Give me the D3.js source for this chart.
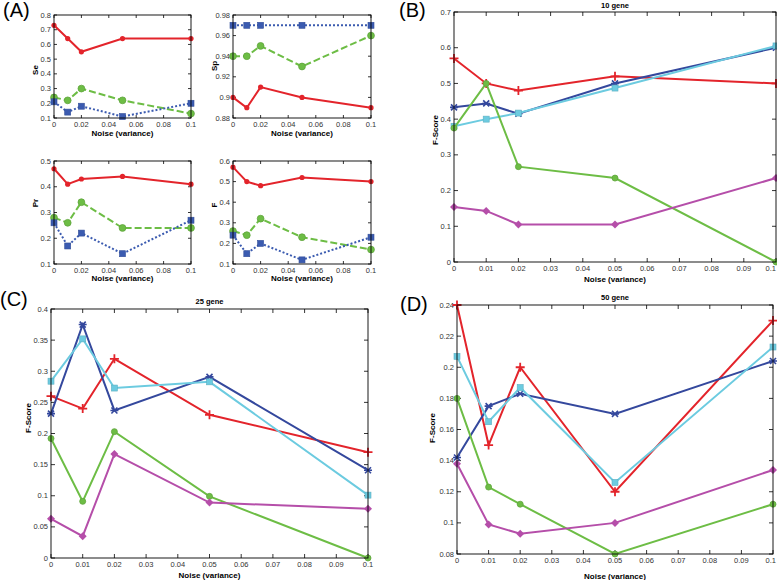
<!DOCTYPE html>
<html>
<head>
<meta charset="utf-8">
<script src="https://cdn.jsdelivr.net/npm/d3@7"></script>
<style>
  body { margin: 0; background: #fff; }
  text { font-family: "Liberation Sans", Arial, sans-serif; }
</style>
</head>
<body>
<svg id="fig"></svg>
<script>
// noise levels shared by every panel
const noise = [0, 0.01, 0.02, 0.05, 0.1];

// panel A: three methods, four measures
const seRed = [0.73, 0.64, 0.55, 0.64, 0.64];
const seGreen = [0.24, 0.22, 0.30, 0.22, 0.13];
const seBlue = [0.21, 0.14, 0.18, 0.11, 0.20];
const spRed = [0.90, 0.89, 0.91, 0.90, 0.89];
const spGreen = [0.94, 0.94, 0.95, 0.93, 0.96];
const spBlue = [0.97, 0.97, 0.97, 0.97, 0.97];
const prRed = [0.47, 0.41, 0.43, 0.44, 0.41];
const prGreen = [0.28, 0.26, 0.34, 0.24, 0.24];
const prBlue = [0.26, 0.17, 0.22, 0.14, 0.27];
const fRed = [0.57, 0.50, 0.48, 0.52, 0.50];
const fGreen = [0.26, 0.24, 0.32, 0.23, 0.17];
const fBlue = [0.24, 0.15, 0.20, 0.12, 0.23];

// panels B-D: F-score for five methods
const g10Red = [0.57, 0.50, 0.48, 0.52, 0.50];
const g10Blue = [0.433, 0.444, 0.415, 0.50, 0.60];
const g10Cyan = [0.38, 0.40, 0.417, 0.487, 0.605];
const g10Green = [0.375, 0.50, 0.267, 0.235, 0.0];
const g10Magenta = [0.154, 0.143, 0.105, 0.105, 0.235];

const g25Red = [0.26, 0.24, 0.32, 0.23, 0.17];
const g25Blue = [0.232, 0.375, 0.237, 0.291, 0.141];
const g25Cyan = [0.284, 0.352, 0.273, 0.283, 0.101];
const g25Green = [0.192, 0.091, 0.203, 0.099, 0.0];
const g25Magenta = [0.063, 0.035, 0.167, 0.089, 0.079];

const g50Red = [0.24, 0.15, 0.20, 0.12, 0.23];
const g50Blue = [0.142, 0.175, 0.183, 0.17, 0.204];
const g50Cyan = [0.207, 0.165, 0.187, 0.126, 0.213];
const g50Green = [0.18, 0.123, 0.112, 0.08, 0.112];
const g50Magenta = [0.138, 0.099, 0.093, 0.100, 0.134];

// tick values
const xTicksA = [0, 0.02, 0.04, 0.06, 0.08, 0.1];
const xTicksB = [0, 0.01, 0.02, 0.03, 0.04, 0.05, 0.06, 0.07, 0.08, 0.09, 0.1];
const seTicks = [0.1, 0.2, 0.3, 0.4, 0.5, 0.6, 0.7, 0.8];
const spTicks = [0.88, 0.9, 0.92, 0.94, 0.96, 0.98];
const prTicks = [0.1, 0.2, 0.3, 0.4, 0.5];
const fTicks = [0.1, 0.2, 0.3, 0.4, 0.5, 0.6];
const g10Ticks = [0, 0.1, 0.2, 0.3, 0.4, 0.5, 0.6, 0.7];
const g25Ticks = [0, 0.05, 0.1, 0.15, 0.2, 0.25, 0.3, 0.35, 0.4];
const g50Ticks = [0.08, 0.1, 0.12, 0.14, 0.16, 0.18, 0.2, 0.22, 0.24];

const RED = "#e3242b", BLUE = "#34489d", CYAN = "#6ccbe0", GREEN = "#6dbd45", MAGENTA = "#b54ea9";
const BLUE_A = "#3b5bb0";

const width = 777, height = 580;
const svg = d3.select("#fig").attr("width", width).attr("height", height);

const fmt = d => String(+d.toFixed(3));

function marker(g, shape, cx, cy, color, s) {
  if (shape === "dot") {
    g.append("circle").attr("cx", cx).attr("cy", cy).attr("r", s).attr("fill", color);
  } else if (shape === "circle") {
    g.append("circle").attr("cx", cx).attr("cy", cy).attr("r", s)
      .attr("fill", color).attr("stroke", d3.color(color).darker(0.4)).attr("stroke-width", 0.8);
  } else if (shape === "square") {
    g.append("rect").attr("x", cx - s).attr("y", cy - s).attr("width", 2 * s).attr("height", 2 * s)
      .attr("fill", color).attr("stroke", d3.color(color).darker(0.4)).attr("stroke-width", 0.6);
  } else if (shape === "diamond") {
    g.append("path").attr("d", `M${cx},${cy - s}L${cx + s},${cy}L${cx},${cy + s}L${cx - s},${cy}Z`)
      .attr("fill", color);
  } else if (shape === "plus") {
    g.append("path").attr("d", `M${cx - s},${cy}H${cx + s}M${cx},${cy - s}V${cy + s}`)
      .attr("stroke", color).attr("stroke-width", 1.8);
  } else if (shape === "star") {
    const d = s * 0.75;
    g.append("path")
      .attr("d", `M${cx - d},${cy - d}L${cx + d},${cy + d}M${cx - d},${cy + d}L${cx + d},${cy - d}M${cx - s},${cy}H${cx + s}`)
      .attr("stroke", color).attr("stroke-width", 1.6);
  }
}

function panel(p) {
  const x = d3.scaleLinear().domain([0, 0.1]).range([p.x0, p.x1]);
  const y = d3.scaleLinear().domain(p.yDomain).range([p.y1, p.y0]);
  const g = svg.append("g");
  const tl = p.tick;

  p.xTicks.forEach(t => {
    g.append("path").attr("d", `M${x(t)},${p.y1}v${-tl}M${x(t)},${p.y0}v${tl}`)
      .attr("stroke", "#000").attr("stroke-width", 0.8);
    // keep the last label inside the page when the axis ends at the edge
    const nearEdge = x(t) + 6 > width;
    g.append("text").attr("x", nearEdge ? width - 1 : x(t)).attr("y", p.y1 + 9)
      .attr("text-anchor", nearEdge ? "end" : "middle")
      .attr("font-size", p.fs).attr("fill", "#333").text(fmt(t));
  });
  p.yTicks.forEach(t => {
    g.append("path").attr("d", `M${p.x0},${y(t)}h${tl}M${p.x1},${y(t)}h${-tl}`)
      .attr("stroke", "#000").attr("stroke-width", 0.8);
    g.append("text").attr("x", p.x0 - 3).attr("y", y(t) + 2.5).attr("text-anchor", "end")
      .attr("font-size", p.fs).attr("fill", "#333").text(fmt(t));
  });

  p.series.forEach(s => {
    const line = d3.line().x((d, i) => x(noise[i])).y(d => y(d));
    g.append("path").attr("d", line(s.values)).attr("fill", "none")
      .attr("stroke", s.color).attr("stroke-width", 2)
      .attr("stroke-dasharray", s.dash || null);
    s.values.forEach((v, i) => marker(g, s.shape, x(noise[i]), y(v), s.color, s.size));
  });

  g.append("rect").attr("x", p.x0).attr("y", p.y0).attr("width", p.x1 - p.x0).attr("height", p.y1 - p.y0)
    .attr("fill", "none").attr("stroke", "#000").attr("stroke-width", 0.9);

  g.append("text").attr("x", (p.x0 + p.x1) / 2).attr("y", p.xlabY).attr("text-anchor", "middle")
    .attr("font-size", p.fs + 0.5).attr("font-weight", "bold").text("Noise (variance)");
  g.append("text").attr("transform", `translate(${p.ylabX},${p.ylabCy}) rotate(-90)`)
    .attr("text-anchor", "middle").attr("font-size", p.fs + 0.5).attr("font-weight", "bold").text(p.ylabel);
  if (p.title) {
    g.append("text").attr("x", (p.x0 + p.x1) / 2).attr("y", p.titleY).attr("text-anchor", "middle")
      .attr("font-size", p.fs).attr("font-weight", "bold").text(p.title);
  }
}

function seriesA(red, green, blue) {
  return [
    { values: red, color: RED, shape: "dot", size: 2.6 },
    { values: green, color: GREEN, shape: "circle", size: 3.4, dash: "7,3" },
    { values: blue, color: BLUE_A, shape: "square", size: 3, dash: "2,2" }
  ];
}

function seriesB(red, blue, cyan, green, magenta) {
  return [
    { values: red, color: RED, shape: "plus", size: 4.5 },
    { values: blue, color: BLUE, shape: "star", size: 4 },
    { values: cyan, color: CYAN, shape: "square", size: 3 },
    { values: green, color: GREEN, shape: "circle", size: 3 },
    { values: magenta, color: MAGENTA, shape: "diamond", size: 4 }
  ];
}

const small = { tick: 3, fs: 7.5, xTicks: xTicksA };
panel({ ...small, x0: 54, x1: 191, y0: 15, y1: 118, yDomain: [0.1, 0.8], yTicks: seTicks,
  series: seriesA(seRed, seGreen, seBlue), xlabY: 136, ylabel: "Se", ylabX: 38, ylabCy: 70 });
panel({ ...small, x0: 233, x1: 371, y0: 15, y1: 118, yDomain: [0.88, 0.98], yTicks: spTicks,
  series: seriesA(spRed, spGreen, spBlue), xlabY: 136, ylabel: "Sp", ylabX: 217, ylabCy: 66 });
panel({ ...small, x0: 54, x1: 191, y0: 161, y1: 264, yDomain: [0.1, 0.5], yTicks: prTicks,
  series: seriesA(prRed, prGreen, prBlue), xlabY: 281, ylabel: "Pr", ylabX: 38, ylabCy: 203 });
panel({ ...small, x0: 233, x1: 371, y0: 161, y1: 264, yDomain: [0.1, 0.6], yTicks: fTicks,
  series: seriesA(fRed, fGreen, fBlue), xlabY: 281, ylabel: "F", ylabX: 217, ylabCy: 205 });

const big = { tick: 4, fs: 7.5, xTicks: xTicksB, ylabel: "F-Score" };
panel({ ...big, x0: 454, x1: 776, y0: 12, y1: 262, yDomain: [0, 0.7], yTicks: g10Ticks,
  series: seriesB(g10Red, g10Blue, g10Cyan, g10Green, g10Magenta),
  xlabY: 282, ylabX: 438, ylabCy: 130, title: "10 gene", titleY: 8 });
panel({ ...big, x0: 51, x1: 368, y0: 309, y1: 558, yDomain: [0, 0.4], yTicks: g25Ticks,
  series: seriesB(g25Red, g25Blue, g25Cyan, g25Green, g25Magenta),
  xlabY: 578, ylabX: 31, ylabCy: 418, title: "25 gene", titleY: 304 });
panel({ ...big, x0: 457, x1: 773, y0: 305, y1: 554, yDomain: [0.08, 0.24], yTicks: g50Ticks,
  series: seriesB(g50Red, g50Blue, g50Cyan, g50Green, g50Magenta),
  xlabY: 579, ylabX: 435, ylabCy: 428, title: "50 gene", titleY: 300 });

// panel letters
[["(A)", 3, 17], ["(B)", 399, 17], ["(C)", 0, 306], ["(D)", 400, 311]].forEach(([t, lx, ly]) => {
  svg.append("text").attr("x", lx).attr("y", ly).attr("font-family", "'Liberation Serif', 'Times New Roman', serif")
    .attr("font-size", 20).text(t);
});
</script>
</body>
</html>
